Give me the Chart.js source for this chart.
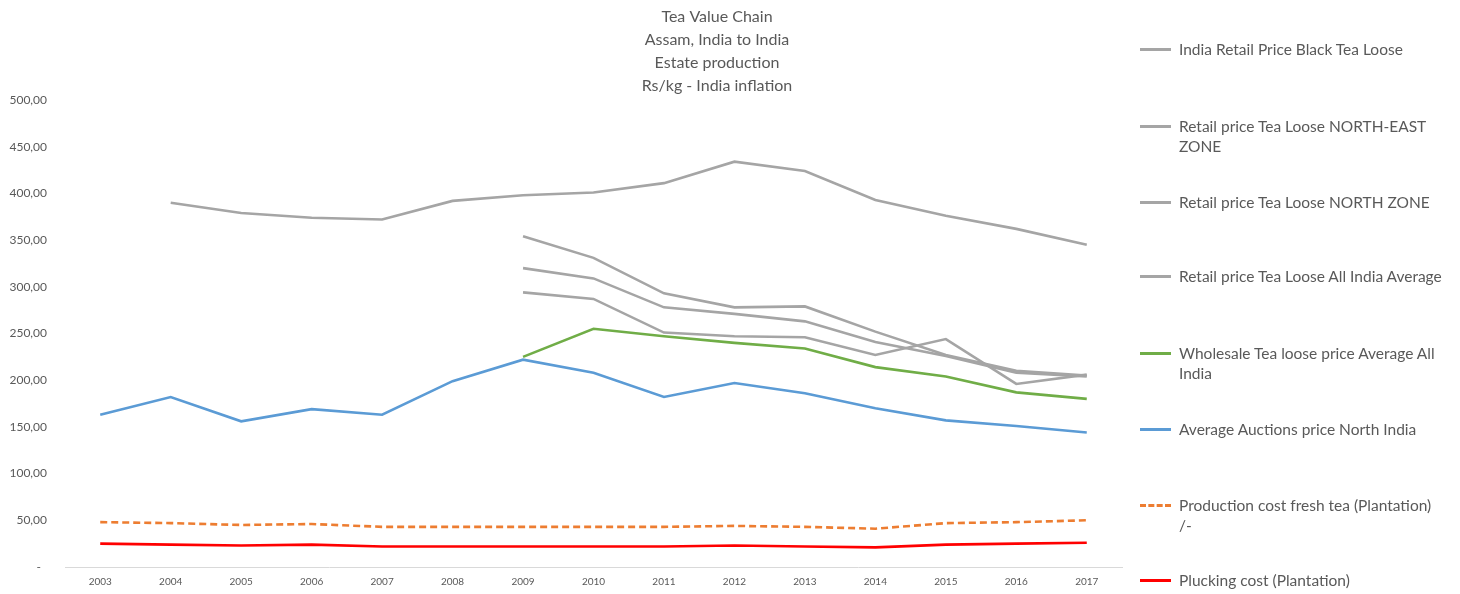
<!DOCTYPE html>
<html>
<head>
<meta charset="utf-8">
<script src="https://cdn.jsdelivr.net/npm/chart.js@4/dist/chart.umd.min.js"></script>
<style>
  body { margin: 0; background: #fff; }
  #wrap { position: relative; width: 1460px; height: 594px; }
  #legend { position: absolute; left: 1140px; top: 0; font-family: Lato, "Noto Sans", sans-serif; font-size: 15.5px; color: #595959; }
  .item { position: absolute; left: 0; width: 310px; }
  .item .swatch { position: absolute; left: 0; top: 9px; width: 31px; height: 0; border-top: 3px solid; }
  .item .txt { position: absolute; left: 39px; width: 265px; line-height: 20px; white-space: normal; }
</style>
</head>
<body>
<div id="wrap">
  <canvas id="myChart"></canvas>
  <div id="legend"></div>
</div>
<script>
// chart data
const years = ["2003","2004","2005","2006","2007","2008","2009","2010","2011","2012","2013","2014","2015","2016","2017"];

const titleLines = ["Tea Value Chain", "Assam, India to India", "Estate production", "Rs/kg - India inflation"];

const retailBlackTea = [null, 390, 379, 374, 372, 392, 398, 401, 411, 434, 424, 393, 376, 362, 345];
const retailNorthEast = [null, null, null, null, null, null, 354, 331, 293, 278, 279, 252, 227, 210, 205];
const retailNorth = [null, null, null, null, null, null, 320, 309, 278, 271, 263, 241, 226, 208, 204];
const retailAllIndia = [null, null, null, null, null, null, 294, 287, 251, 247, 246, 227, 244, 196, 206];
const wholesaleAllIndia = [null, null, null, null, null, null, 225, 255, 247, 240, 234, 214, 204, 187, 180];
const auctionsNorth = [163, 182, 156, 169, 163, 199, 222, 208, 182, 197, 186, 170, 157, 151, 144];
const productionCost = [48, 47, 45, 46, 43, 43, 43, 43, 43, 44, 43, 41, 47, 48, 50];
const pluckingCost = [25, 24, 23, 24, 22, 22, 22, 22, 22, 23, 22, 21, 24, 25, 26];

// legend slots (y of first text line)
const legendTops = [39, 116, 192, 266, 343, 419, 495, 570];

const grey = "#a5a5a5";

let mk = (label, data, color, dash) => ({
  label: label,
  data: data,
  borderColor: color,
  backgroundColor: color,
  borderWidth: 2.6,
  borderDash: dash || [],
  pointRadius: 0,
  pointHoverRadius: 0,
  tension: 0,
  spanGaps: false,
});

const datasets = [
  mk("India Retail Price Black Tea Loose", retailBlackTea, grey),
  mk("Retail price Tea Loose NORTH-EAST ZONE", retailNorthEast, grey),
  mk("Retail price Tea Loose NORTH ZONE", retailNorth, grey),
  mk("Retail price Tea Loose All India Average", retailAllIndia, grey),
  mk("Wholesale Tea loose price Average All India", wholesaleAllIndia, "#70ad47"),
  mk("Average Auctions price North India", auctionsNorth, "#5b9bd5"),
  mk("Production cost fresh tea (Plantation) /-", productionCost, "#ed7d31", [7, 4]),
  mk("Plucking cost (Plantation)", pluckingCost, "#ff0000"),
];

// draws the 4 line title
const titlePlugin = {
  id: "titleLines",
  afterDraw(chart) {
    const ctx = chart.ctx;
    ctx.save();
    ctx.font = "16px Lato, 'Noto Sans', sans-serif";
    ctx.fillStyle = "#595959";
    ctx.textAlign = "center";
    ctx.textBaseline = "middle";
    titleLines.forEach((t, i) => ctx.fillText(t, 717, 17 + i * 23));
    ctx.restore();
  },
};

let ctx = document.getElementById("myChart").getContext("2d");

const myChart = new Chart(ctx, {
  type: "line",
  data: {
    labels: years,
    datasets: datasets,
  },
  options: {
    responsive: true,
    maintainAspectRatio: false,
    animation: false,
    layout: {
      padding: { top: 100, right: 338, left: 0, bottom: 0 },
    },
    plugins: {
      legend: { display: false },
      title: { display: false },
      tooltip: { enabled: false },
    },
    scales: {
      x: {
        offset: true,
        grid: { display: false, drawTicks: false },
        border: { display: true, color: "#d9d9d9", width: 1 },
        ticks: {
          color: "#595959",
          font: { family: "Lato", size: 10 },
          padding: 9,
          maxRotation: 0,
          autoSkip: false,
        },
        afterFit: (scale) => { scale.height = 27; },
      },
      y: {
        min: 0,
        max: 500,
        grid: { display: false, drawTicks: false },
        border: { display: false },
        ticks: {
          stepSize: 50,
          color: "#595959",
          font: { family: "Lato", size: 12 },
          padding: 18,
          callback: (v) => (v === 0 ? "-  " : v.toFixed(2).replace(".", ",")),
        },
        afterFit: (scale) => { scale.width = 65; },
      },
    },
  },
  plugins: [titlePlugin],
});

// html legend from datasets
let legend = document.getElementById("legend");
datasets.forEach((ds, i) => {
  let item = document.createElement("div");
  item.className = "item";
  item.style.top = legendTops[i] + "px";
  let sw = document.createElement("div");
  sw.className = "swatch";
  if (ds.borderDash.length) {
    sw.style.borderTop = "3px dashed " + ds.borderColor;
  } else {
    sw.style.borderTopColor = ds.borderColor;
  }
  let tx = document.createElement("div");
  tx.className = "txt";
  tx.textContent = ds.label;
  item.appendChild(sw);
  item.appendChild(tx);
  legend.appendChild(item);
});
</script>
</body>
</html>
